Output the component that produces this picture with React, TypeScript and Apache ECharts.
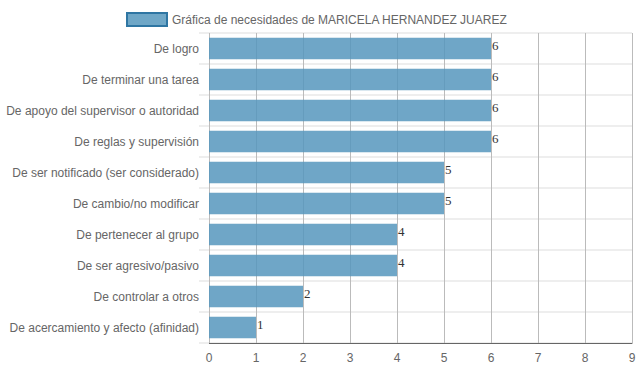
import React, { useEffect, useRef } from "react";
import * as echarts from "echarts";

const categories = [
  "De logro",
  "De terminar una tarea",
  "De apoyo del supervisor o autoridad",
  "De reglas y supervisión",
  "De ser notificado (ser considerado)",
  "De cambio/no modificar",
  "De pertenecer al grupo",
  "De ser agresivo/pasivo",
  "De controlar a otros",
  "De acercamiento y afecto (afinidad)",
];
const values = [6, 6, 6, 6, 5, 5, 4, 4, 2, 1];
const seriesName = "Gráfica de necesidades de MARICELA HERNANDEZ JUAREZ";

export default function App() {
  const ref = useRef<HTMLDivElement>(null);
  useEffect(() => {
    if (!ref.current) return;
    const chart = echarts.init(ref.current, null, { renderer: "svg" });
    chart.setOption({
      animation: false,
      legend: {
        top: 7,
        left: 121,
        itemWidth: 40,
        itemHeight: 13,
        itemGap: 8,
        textStyle: { color: "#666", fontSize: 12, fontFamily: "Liberation Sans, Arial, sans-serif" },
        data: [
          {
            name: seriesName,
            icon: "rect",
            itemStyle: { color: "#6fa7c7", borderColor: "#2f76a3", borderWidth: 2 },
          },
        ],
      },
      grid: { left: 209, right: 7, top: 33, bottom: 29, containLabel: false },
      xAxis: {
        type: "value",
        min: 0,
        max: 9,
        interval: 1,
        axisLine: { show: true, lineStyle: { color: "#666" } },
        axisTick: { show: false },
        axisLabel: { color: "#666", fontSize: 12, margin: 9, fontFamily: "Liberation Sans, Arial, sans-serif" },
        splitLine: { show: true, lineStyle: { color: "#bbb", width: 1 } },
      },
      yAxis: {
        type: "category",
        inverse: true,
        data: categories,
        axisLine: { show: false },
        axisTick: { show: true, length: 10, lineStyle: { color: "#eee", width: 2 } },
        axisLabel: { color: "#666", fontSize: 12, margin: 10, fontFamily: "Liberation Sans, Arial, sans-serif" },
        splitLine: { show: true, lineStyle: { color: "#eee", width: 2 } },
      },
      series: [
        {
          name: seriesName,
          type: "bar",
          data: values,
          barWidth: "70%",
          itemStyle: { color: "rgba(86,151,189,0.85)" },
          label: {
            show: true,
            position: "right",
            distance: 1,
            color: "#333",
            fontSize: 13,
            fontFamily: "Liberation Serif, Times New Roman, serif",
            offset: [0, -3],
          },
        },
      ],
    });
    return () => chart.dispose();
  }, []);
  return <div ref={ref} style={{ width: 639, height: 372, position: "absolute", left: 0, top: 0 }} />;
}
